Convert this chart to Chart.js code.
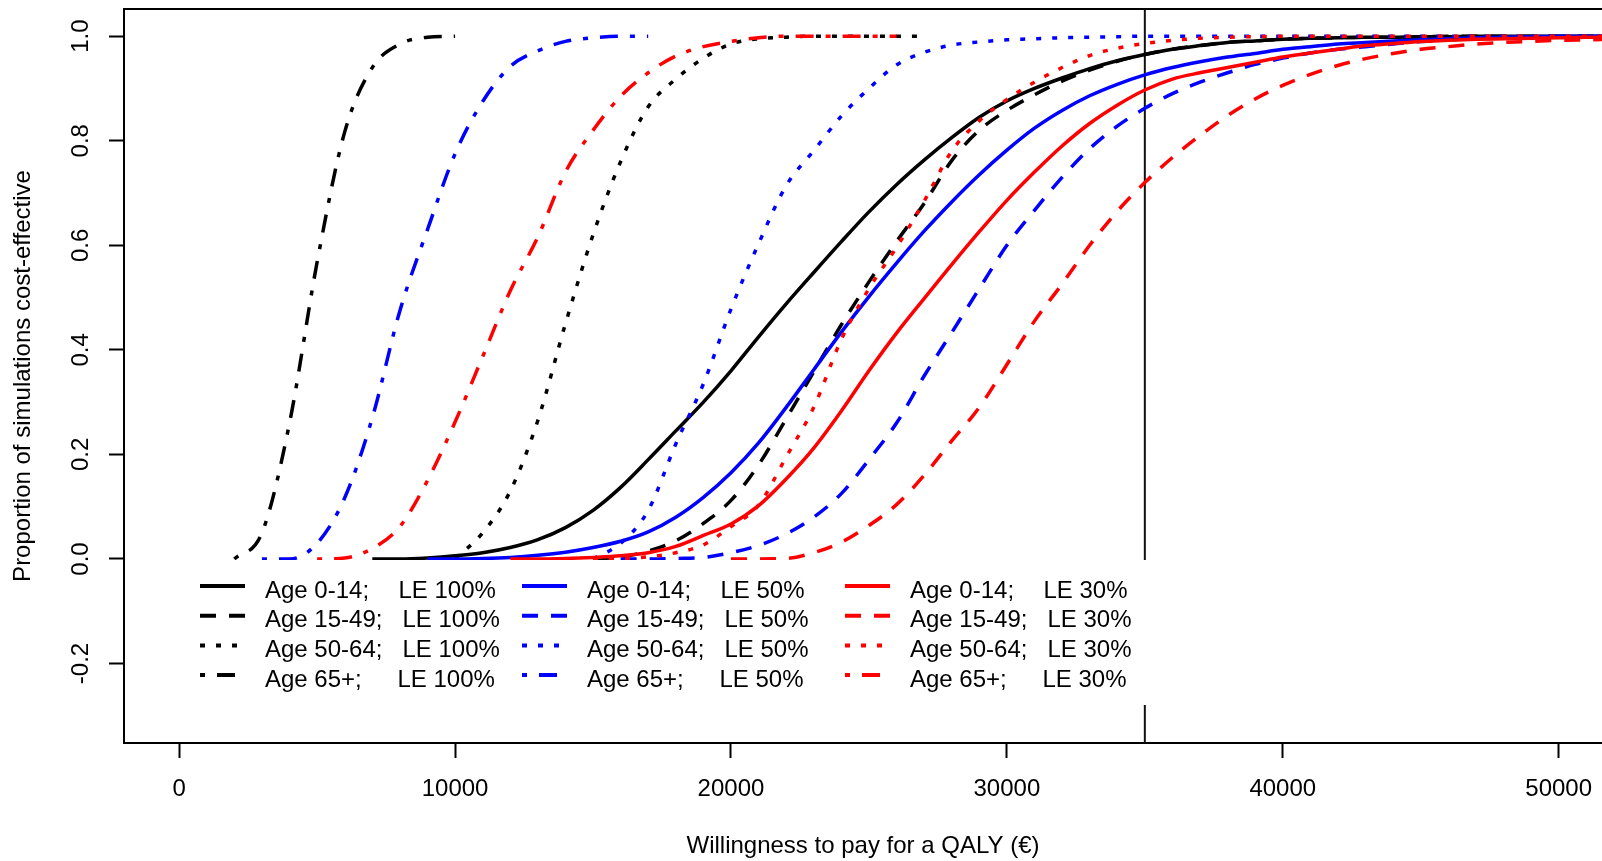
<!DOCTYPE html>
<html>
<head>
<meta charset="utf-8">
<script src="https://cdn.jsdelivr.net/npm/chart.js@4.4.0/dist/chart.umd.min.js"></script>
<style>
html,body{margin:0;padding:0;background:#fff;overflow:hidden}
#wrap{width:1602px;height:861px;position:relative}
canvas{display:block}
</style>
</head>
<body>
<div id="wrap"><canvas id="c" width="1602" height="861"></canvas></div>
<script>
// ---------------- DATA ----------------
// willingness-to-pay grid (EUR per QALY)
const wtp = [
  0,1000,2000,3000,4000,5000,6000,7000,8000,9000,
  10000,11000,12000,13000,14000,15000,16000,17000,18000,19000,
  20000,21000,22000,23000,24000,25000,26000,27000,28000,29000,
  30000,31000,32000,33000,34000,35000,36000,37000,38000,39000,
  40000,41000,42000,43000,44000,45000,46000,47000,48000,49000,
  50000,51000,52000
];
const n = null;

// LE 100%
const le100_age0_14 = [
  n,n,n,n,n,n,n,0,0,0.002,
  0.006,0.012,0.022,0.037,0.06,0.093,0.137,0.19,0.245,0.3,
  0.36,0.425,0.488,0.548,0.607,0.664,0.716,0.763,0.806,0.845,
  0.876,0.9,0.92,0.938,0.953,0.965,0.975,0.982,0.988,0.991,
  0.994,0.996,0.997,0.998,0.998,0.999,0.999,1,1,1,
  1,1,1
];
const le100_age15_49 = [
  n,n,n,n,n,n,n,n,n,n,
  n,n,n,n,n,0,0.004,0.015,0.035,0.068,
  0.112,0.18,0.268,0.358,0.448,0.53,0.607,0.68,0.762,0.82,
  0.858,0.888,0.914,0.935,0.952,0.965,0.975,0.982,0.988,0.991,
  0.994,0.996,0.997,0.998,0.998,0.999,1,1,1,1,
  1,1,1
];
const le100_age50_64 = [
  n,n,n,n,n,n,n,n,n,n,
  0,0.05,0.13,0.265,0.45,0.62,0.76,0.865,0.918,0.958,
  0.985,0.995,0.998,1,1,1,1,1,n,n,
  n,n,n,n,n,n,n,n,n,n,
  n,n,n,n,n,n,n,n,n,n,
  n,n,n
];
const le100_age65 = [
  n,n,0,0.05,0.26,0.568,0.817,0.94,0.985,0.998,
  1,n,n,n,n,n,n,n,n,n,
  n,n,n,n,n,n,n,n,n,n,
  n,n,n,n,n,n,n,n,n,n,
  n,n,n,n,n,n,n,n,n,n,
  n,n,n
];
// LE 50%
const le50_age0_14 = [
  n,n,n,n,n,n,n,n,n,0,
  0,0.001,0.003,0.007,0.013,0.022,0.034,0.052,0.08,0.118,
  0.165,0.222,0.29,0.362,0.434,0.502,0.566,0.627,0.683,0.735,
  0.782,0.824,0.858,0.886,0.908,0.926,0.94,0.951,0.96,0.967,
  0.975,0.98,0.985,0.988,0.991,0.993,0.995,0.997,0.998,0.999,
  1,1,1
];
const le50_age15_49 = [
  n,n,n,n,n,n,n,n,n,n,
  n,n,n,n,n,n,0,0,0.001,0.003,
  0.012,0.026,0.048,0.08,0.125,0.19,0.26,0.35,0.433,0.517,
  0.6,0.667,0.73,0.785,0.828,0.862,0.89,0.912,0.93,0.946,
  0.958,0.968,0.975,0.98,0.985,0.99,0.993,0.995,0.997,0.998,
  0.999,0.999,0.999
];
const le50_age50_64 = [
  n,n,n,n,n,n,n,n,n,n,
  n,n,n,n,n,0,0.03,0.093,0.22,0.335,
  0.478,0.603,0.714,0.781,0.847,0.9,0.945,0.969,0.983,0.989,
  0.993,0.995,0.997,0.998,0.999,1,1,1,1,1,
  1,1,1,1,1,1,1,1,1,1,
  1,1,1
];
const le50_age65 = [
  n,n,n,0,0,0.03,0.117,0.27,0.475,0.63,
  0.775,0.875,0.942,0.972,0.99,0.997,1,1,n,n,
  n,n,n,n,n,n,n,n,n,n,
  n,n,n,n,n,n,n,n,n,n,
  n,n,n,n,n,n,n,n,n,n,
  n,n,n
];
// LE 30%
const le30_age0_14 = [
  n,n,n,n,n,n,n,n,n,n,
  n,n,0,0,0.001,0.003,0.006,0.012,0.024,0.045,
  0.067,0.102,0.153,0.212,0.283,0.36,0.432,0.498,0.563,0.626,
  0.686,0.74,0.79,0.833,0.868,0.897,0.918,0.93,0.94,0.95,
  0.96,0.968,0.975,0.982,0.986,0.99,0.992,0.994,0.995,0.996,
  0.997,0.998,0.998
];
const le30_age15_49 = [
  n,n,n,n,n,n,n,n,n,n,
  n,n,n,n,n,n,n,n,n,n,
  0,0,0.001,0.012,0.032,0.064,0.104,0.16,0.226,0.29,
  0.372,0.455,0.526,0.6,0.665,0.72,0.768,0.81,0.848,0.88,
  0.906,0.927,0.944,0.957,0.967,0.975,0.98,0.985,0.988,0.99,
  0.992,0.993,0.994
];
const le30_age50_64 = [
  n,n,n,n,n,n,n,n,n,n,
  n,n,n,n,n,0,0.001,0.004,0.012,0.027,
  0.062,0.103,0.195,0.29,0.42,0.517,0.596,0.684,0.78,0.838,
  0.879,0.912,0.94,0.963,0.977,0.986,0.992,0.996,0.998,0.999,
  1,1,1,1,1,1,1,1,1,1,
  1,1,1
];
const le30_age65 = [
  n,n,n,n,n,0,0.002,0.02,0.062,0.15,
  0.262,0.387,0.513,0.616,0.74,0.82,0.885,0.93,0.962,0.98,
  0.99,0.997,1,1,1,1,1,n,n,n,
  n,n,n,n,n,n,n,n,n,n,
  n,n,n,n,n,n,n,n,n,n,
  n,n,n
];

const ageGroups = ["Age 0-14;", "Age 15-49;", "Age 50-64;", "Age 65+;"];
const leLevels = ["LE 100%", "LE 50%", "LE 30%"];
const seriesByLE = [
  [le100_age0_14, le100_age15_49, le100_age50_64, le100_age65],
  [le50_age0_14, le50_age15_49, le50_age50_64, le50_age65],
  [le30_age0_14, le30_age15_49, le30_age50_64, le30_age65]
];
const thresholdWTP = 35000;
const xTicks = [0, 10000, 20000, 30000, 40000, 50000];
const yTicks = [-0.2, 0, 0.2, 0.4, 0.6, 0.8, 1.0];
const xTitle = "Willingness to pay for a QALY (\u20AC)";
const yTitle = "Proportion of simulations cost-effective";

// ---------------- STYLE ----------------
const FONT = "'Liberation Sans', Arial, sans-serif";
const leColors = ['#000000', '#0000ff', '#ff0000'];
const ageDash = [[], [16, 13], [5, 11], [5, 12, 18, 12]];
const leOrder = [3, 2, 1];

const datasets = [];
seriesByLE.forEach((group, c) => {
  group.forEach((vals, r) => {
    datasets.push({
      label: ageGroups[r] + ' ' + leLevels[c],
      data: wtp.map((x, i) => ({x: x, y: vals[i]})),
      borderColor: leColors[c],
      borderDash: ageDash[r],
      borderWidth: 3.5,
      fill: false,
      pointRadius: 0,
      cubicInterpolationMode: 'monotone',
      spanGaps: false,
      order: leOrder[c],
      _legendRow: r,
      _legendCol: c
    });
  });
});
datasets.push({
  label: 'threshold',
  data: [{x: thresholdWTP, y: -0.352}, {x: thresholdWTP, y: 1.052}],
  borderColor: '#111',
  borderWidth: 2,
  pointRadius: 0,
  tension: 0,
  cubicInterpolationMode: 'default',
  order: 10
});

const legendPlugin = {
  id: 'rlegend',
  afterDatasetsDraw(chart) {
    const ctx = chart.ctx;
    ctx.save();
    ctx.fillStyle = '#ffffff';
    ctx.fillRect(185, 560, 968, 145);
    const textX = [265, 587, 910];
    const leAdj = [0, 4, 4, -1];
    ctx.font = '24px ' + FONT;
    ctx.textBaseline = 'alphabetic';
    ctx.textAlign = 'left';
    chart.data.datasets.forEach(ds => {
      if (ds._legendRow === undefined) return;
      const r = ds._legendRow, c = ds._legendCol;
      const y = 586 + r * 29.7;
      const x0 = textX[c] - 65;
      ctx.beginPath();
      ctx.setLineDash(ds.borderDash);
      ctx.lineDashOffset = 0;
      ctx.lineWidth = 4;
      ctx.lineCap = 'butt';
      ctx.strokeStyle = ds.borderColor;
      ctx.moveTo(x0, y);
      ctx.lineTo(x0 + 45, y);
      ctx.stroke();
      ctx.setLineDash([]);
      ctx.fillStyle = '#000';
      ctx.fillText(ageGroups[r], textX[c], y + 11.5);
      ctx.fillText(leLevels[c], textX[c] + 133.5 + leAdj[r], y + 11.5);
    });
    ctx.restore();
  },
  afterDraw(chart) {
    const ctx = chart.ctx;
    const a = chart.chartArea;
    ctx.save();
    // top border of the plot box
    ctx.strokeStyle = '#000';
    ctx.lineWidth = 2;
    ctx.beginPath();
    ctx.moveTo(a.left - 1, a.top);
    ctx.lineTo(chart.width, a.top);
    ctx.stroke();
    // rotated y tick labels
    const ys = chart.scales.y;
    ctx.fillStyle = '#000';
    ctx.font = '24px ' + FONT;
    ctx.textAlign = 'center';
    ctx.textBaseline = 'middle';
    ys.ticks.forEach(t => {
      const py = ys.getPixelForValue(t.value);
      ctx.save();
      ctx.translate(81, py);
      ctx.rotate(-Math.PI / 2);
      ctx.fillText(t.value.toFixed(1), 0, 0);
      ctx.restore();
    });
    ctx.restore();
  }
};

new Chart(document.getElementById('c'), {
  type: 'line',
  data: {datasets: datasets},
  plugins: [legendPlugin],
  options: {
    responsive: false,
    animation: false,
    devicePixelRatio: 1,
    layout: {padding: {top: 9, left: 0, right: 0, bottom: 0}},
    plugins: {legend: {display: false}, tooltip: {enabled: false}},
    elements: {point: {radius: 0}, line: {borderCapStyle: 'butt', borderJoinStyle: 'round'}},
    scales: {
      x: {
        type: 'linear',
        min: -2000,
        max: 51570,
        afterBuildTicks: s => { s.ticks = xTicks.map(v => ({value: v})); },
        afterFit: s => { s.height = 118; s.paddingLeft = 0; s.paddingRight = 0; },
        grid: {display: true, drawOnChartArea: false, drawTicks: true, tickLength: 15, tickWidth: 2, tickColor: '#000'},
        border: {display: true, color: '#000', width: 2},
        ticks: {font: {family: FONT, size: 24}, color: '#000', padding: 17, maxRotation: 0, minRotation: 0,
                autoSkip: false, callback: v => String(v)},
        title: {display: true, text: xTitle, font: {family: FONT, size: 24}, color: '#000', padding: {top: 1, bottom: 0}}
      },
      y: {
        type: 'linear',
        min: -0.352,
        max: 1.052,
        afterBuildTicks: s => { s.ticks = yTicks.map(v => ({value: v})); },
        afterFit: s => { s.width = 124; s.paddingTop = 0; s.paddingBottom = 0; },
        grid: {display: true, drawOnChartArea: false, drawTicks: true, tickLength: 15, tickWidth: 2, tickColor: '#000'},
        border: {display: true, color: '#000', width: 2},
        ticks: {display: false},
        title: {display: true, text: yTitle, font: {family: FONT, size: 24}, color: '#000', padding: {top: 9, bottom: 0}}
      }
    }
  }
});
</script>
</body>
</html>
